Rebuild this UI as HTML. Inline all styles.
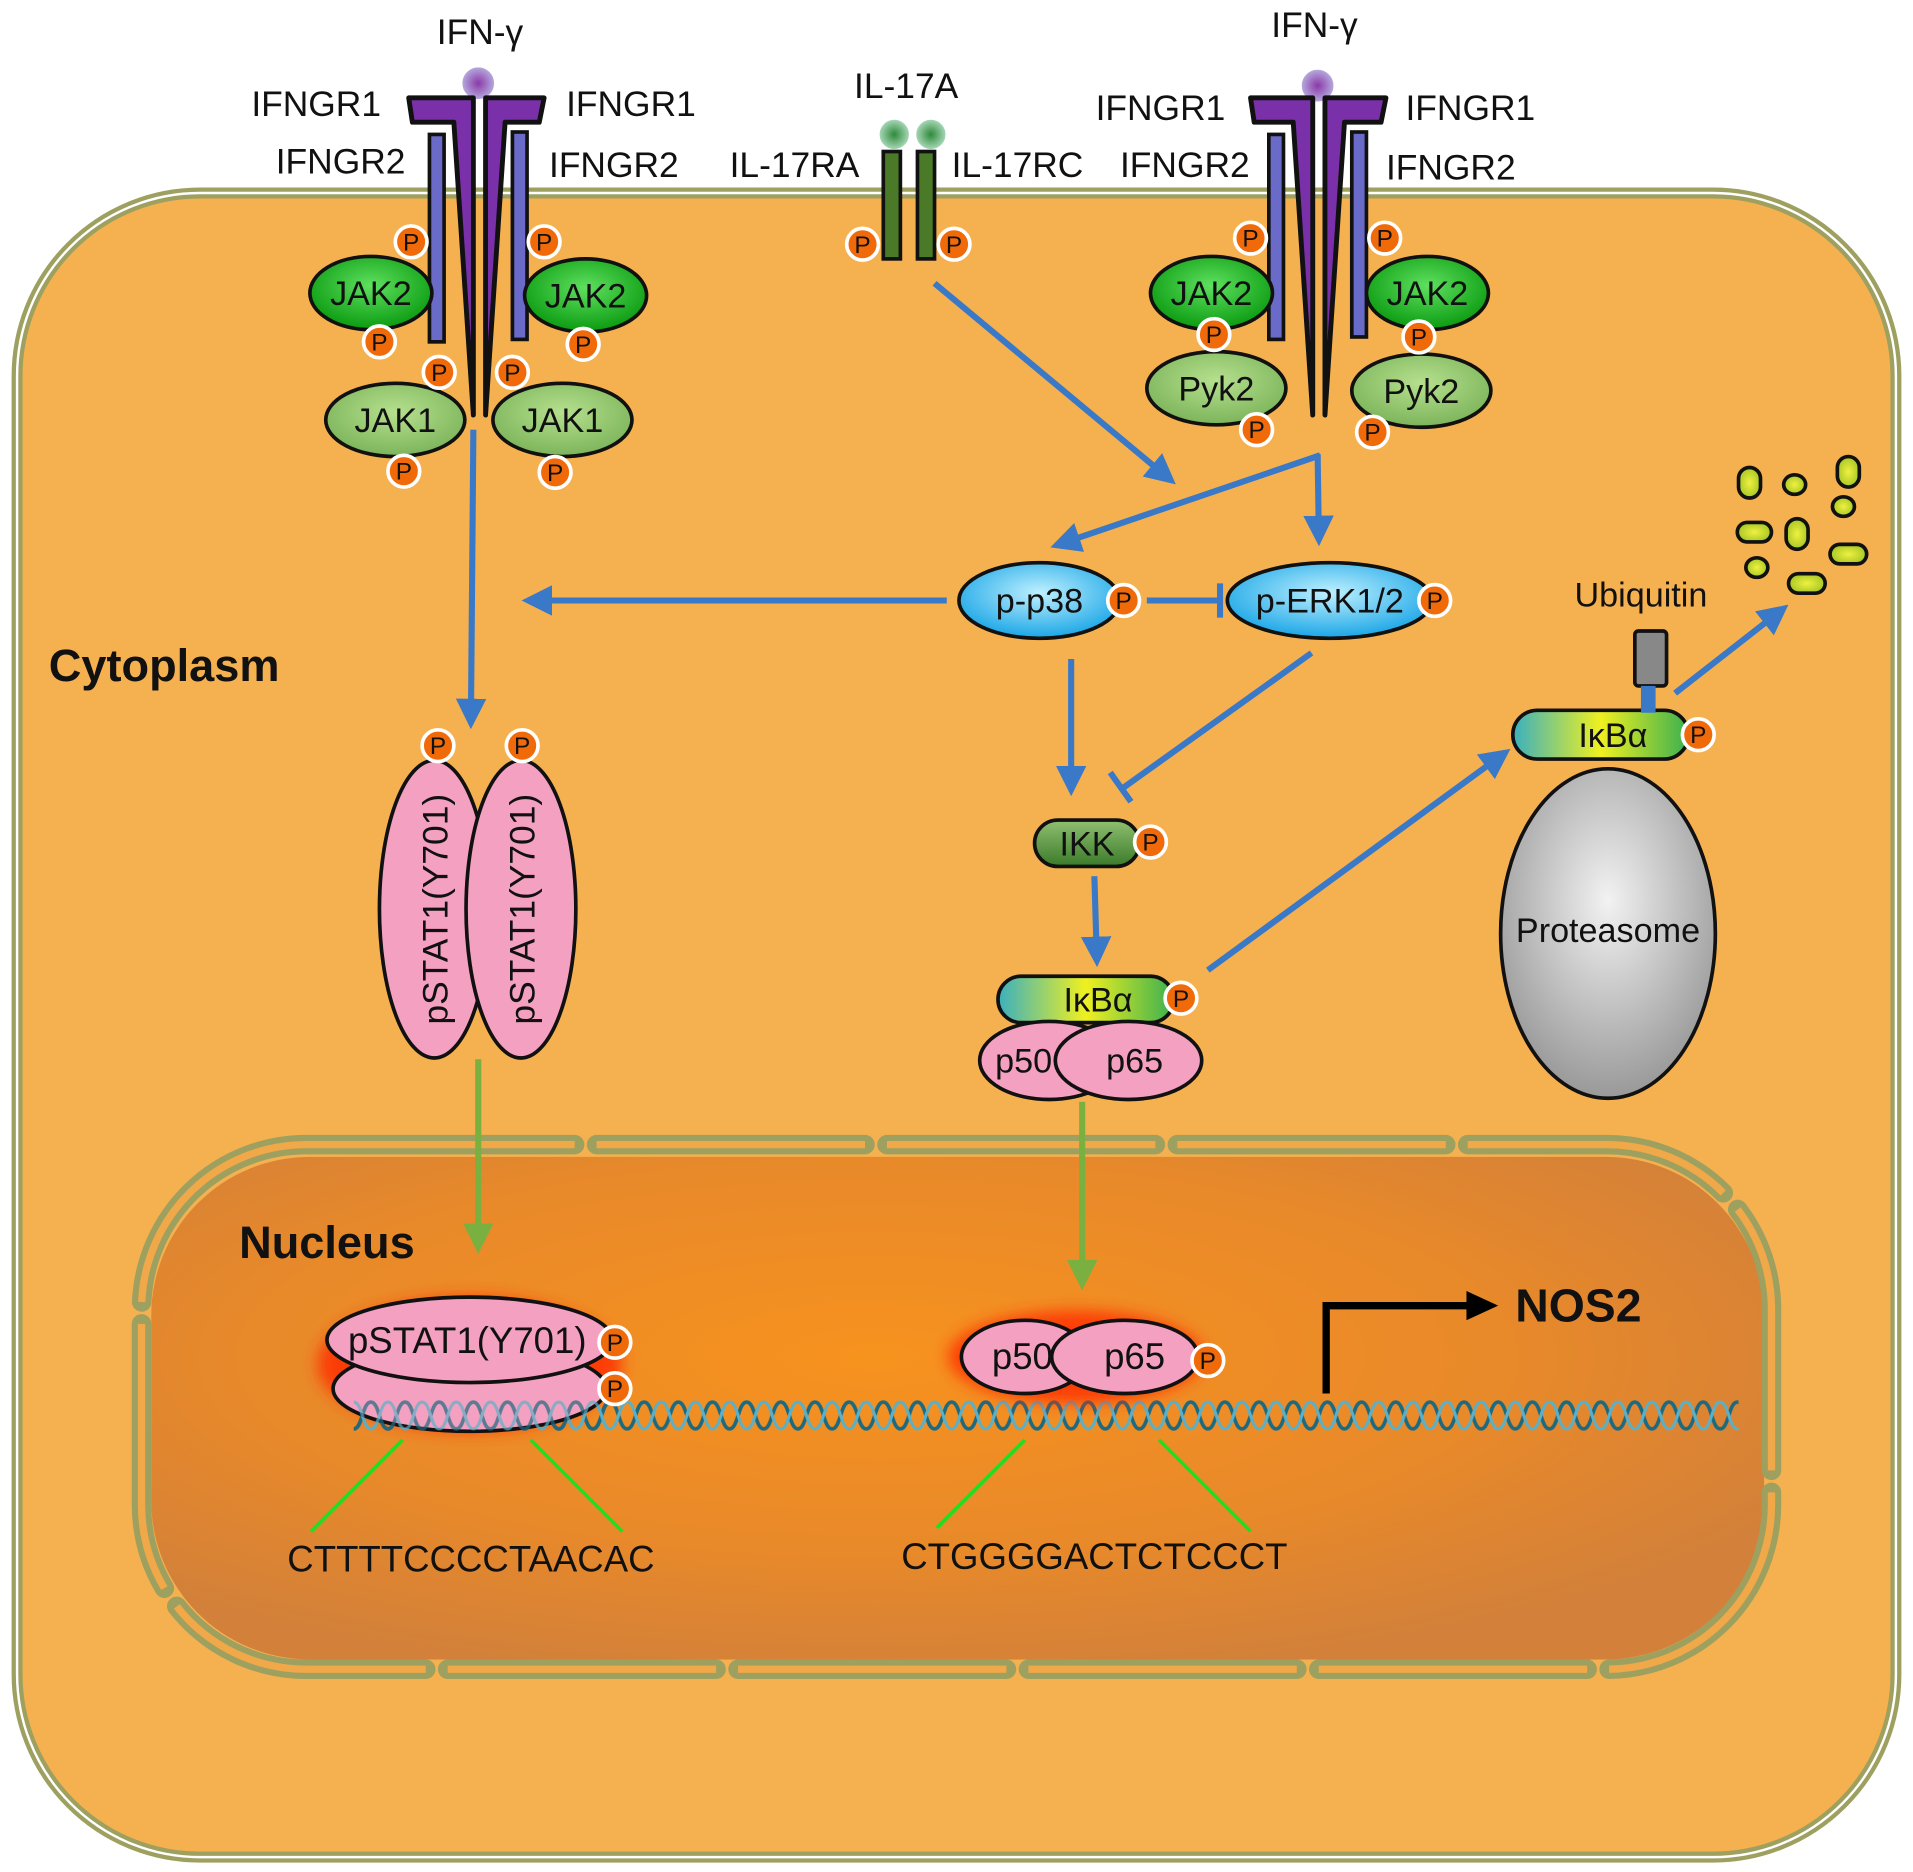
<!DOCTYPE html>
<html><head><meta charset="utf-8"><style>html,body{margin:0;padding:0;background:#fff}svg{display:block}</style></head><body>
<svg width="1913" height="1872" viewBox="0 0 1568 1534" xmlns="http://www.w3.org/2000/svg" font-family="Liberation Sans, Arial, sans-serif">
<defs>
<radialGradient id="nuc" cx="0.45" cy="0.4" r="0.65"><stop offset="0" stop-color="#f7921e"/><stop offset="0.6" stop-color="#e8892a"/><stop offset="1" stop-color="#d2803a"/></radialGradient>
<radialGradient id="g1" cx="0.5" cy="0.4" r="0.6"><stop offset="0" stop-color="#5fe05f"/><stop offset="1" stop-color="#0a9a10"/></radialGradient>
<radialGradient id="g2" cx="0.5" cy="0.4" r="0.6"><stop offset="0" stop-color="#b6e08e"/><stop offset="1" stop-color="#7cb45a"/></radialGradient>
<radialGradient id="bl" cx="0.5" cy="0.4" r="0.6"><stop offset="0" stop-color="#bff0ff"/><stop offset="1" stop-color="#1aa6e6"/></radialGradient>
<radialGradient id="gr" cx="0.5" cy="0.4" r="0.6"><stop offset="0" stop-color="#f2f2f2"/><stop offset="1" stop-color="#999"/></radialGradient>
<radialGradient id="ifn" cx="0.5" cy="0.5" r="0.5"><stop offset="0" stop-color="#8a3aa8"/><stop offset="1" stop-color="#b8b0e0"/></radialGradient>
<radialGradient id="il" cx="0.5" cy="0.5" r="0.5"><stop offset="0" stop-color="#2e8a3a"/><stop offset="1" stop-color="#b0dcc0"/></radialGradient>
<linearGradient id="ikb" x1="0" x2="1"><stop offset="0" stop-color="#3ab0c0"/><stop offset="0.5" stop-color="#f0f020"/><stop offset="1" stop-color="#3ab050"/></linearGradient>
<linearGradient id="ikk" x1="0" x2="0" y1="0" y2="1"><stop offset="0" stop-color="#8fc070"/><stop offset="1" stop-color="#3a7a2a"/></linearGradient>
<radialGradient id="yl" cx="0.5" cy="0.5" r="0.6"><stop offset="0" stop-color="#f0f040"/><stop offset="1" stop-color="#9ac020"/></radialGradient>
<filter id="glow" x="-20%" y="-40%" width="140%" height="180%"><feGaussianBlur stdDeviation="6"/></filter>
<pattern id="dna" x="290" y="1145" width="28" height="30" patternUnits="userSpaceOnUse">
<path d="M0 26 C7 26 7 4 14 4 C21 4 21 26 28 26" fill="none" stroke="#1d6a80" stroke-width="3"/>
<path d="M0 4 C7 4 7 26 14 26 C21 26 21 4 28 4" fill="none" stroke="#5ab0c8" stroke-width="2.5"/>
</pattern>
<marker id="ab" markerWidth="5" markerHeight="5" refX="3.5" refY="2.5" orient="auto" markerUnits="strokeWidth"><path d="M0 0 L5 2.5 L0 5 z" fill="#3a78c8"/></marker>
<marker id="ag" markerWidth="5" markerHeight="5" refX="3.5" refY="2.5" orient="auto" markerUnits="strokeWidth"><path d="M0 0 L5 2.5 L0 5 z" fill="#7ab040"/></marker>
</defs>
<rect width="1568" height="1534" fill="#fff"/>
<rect x="14" y="158" width="1540" height="1364" rx="150" fill="#f5b14f" stroke="#9ea060" stroke-width="9"/>
<rect x="14" y="158" width="1540" height="1364" rx="150" fill="none" stroke="#fff" stroke-width="2"/>
<rect x="124" y="948" width="1322" height="412" rx="130" fill="url(#nuc)"/>
<rect x="116" y="938" width="1336" height="430" rx="135" fill="none" stroke="#9ea060" stroke-width="16" stroke-dasharray="220 18" stroke-linecap="round"/>
<rect x="116" y="938" width="1336" height="430" rx="135" fill="none" stroke="#f0a848" stroke-width="6" stroke-dasharray="220 18"/>
<rect x="290" y="1145" width="1135" height="30" fill="url(#dna)"/>
<circle cx="392" cy="68" r="14" fill="url(#ifn)" stroke="#fff" stroke-width="2"/>
<path d="M335 80 L388 80 L388 340 L372 100 L338 100 Z" fill="#7a30a8" stroke="#111" stroke-width="4" stroke-linejoin="round"/>
<path d="M446 80 L398 80 L398 340 L414 100 L442 100 Z" fill="#7a30a8" stroke="#111" stroke-width="4" stroke-linejoin="round"/>
<rect x="352" y="110" width="12" height="170" fill="#6a6ac8" stroke="#111" stroke-width="3"/>
<rect x="420" y="108" width="12" height="170" fill="#6a6ac8" stroke="#111" stroke-width="3"/>
<circle cx="1080" cy="70" r="14" fill="url(#ifn)" stroke="#fff" stroke-width="2"/>
<path d="M1025 80 L1076 80 L1076 340 L1060 100 L1028 100 Z" fill="#7a30a8" stroke="#111" stroke-width="4" stroke-linejoin="round"/>
<path d="M1136 80 L1086 80 L1086 340 L1102 100 L1132 100 Z" fill="#7a30a8" stroke="#111" stroke-width="4" stroke-linejoin="round"/>
<rect x="1040" y="110" width="12" height="168" fill="#6a6ac8" stroke="#111" stroke-width="3"/>
<rect x="1108" y="108" width="12" height="168" fill="#6a6ac8" stroke="#111" stroke-width="3"/>
<circle cx="733" cy="110" r="13" fill="url(#il)" stroke="#fff" stroke-width="2"/>
<circle cx="763" cy="110" r="13" fill="url(#il)" stroke="#fff" stroke-width="2"/>
<rect x="724" y="124" width="14" height="88" fill="#4a7a28" stroke="#111" stroke-width="3"/>
<rect x="752" y="124" width="14" height="88" fill="#4a7a28" stroke="#111" stroke-width="3"/>
<g font-size="29" fill="#111">
<text x="358" y="36">IFN-γ</text><text x="1042" y="30">IFN-γ</text>
<text x="206" y="95">IFNGR1</text><text x="464" y="95">IFNGR1</text>
<text x="226" y="142">IFNGR2</text><text x="450" y="145">IFNGR2</text>
<text x="700" y="80">IL-17A</text><text x="598" y="145">IL-17RA</text><text x="780" y="145">IL-17RC</text>
<text x="898" y="98">IFNGR1</text><text x="1152" y="98">IFNGR1</text>
<text x="918" y="145">IFNGR2</text><text x="1136" y="147">IFNGR2</text>
</g>
<g stroke="#111" stroke-width="3">
<ellipse cx="304" cy="240" rx="50" ry="30" fill="url(#g1)"/>
<ellipse cx="480" cy="242" rx="50" ry="30" fill="url(#g1)"/>
<ellipse cx="324" cy="344" rx="57" ry="30" fill="url(#g2)"/>
<ellipse cx="461" cy="344" rx="57" ry="30" fill="url(#g2)"/>
<ellipse cx="993" cy="240" rx="50" ry="30" fill="url(#g1)"/>
<ellipse cx="1170" cy="240" rx="50" ry="30" fill="url(#g1)"/>
<ellipse cx="997" cy="318" rx="57" ry="30" fill="url(#g2)"/>
<ellipse cx="1165" cy="320" rx="57" ry="30" fill="url(#g2)"/>
<ellipse cx="852" cy="492" rx="66" ry="31" fill="url(#bl)"/>
<ellipse cx="1090" cy="492" rx="84" ry="31" fill="url(#bl)"/>
<rect x="848" y="672" width="86" height="38" rx="19" fill="url(#ikk)"/>
<rect x="818" y="800" width="144" height="38" rx="19" fill="url(#ikb)"/>
<ellipse cx="1318" cy="765" rx="88" ry="135" fill="url(#gr)"/>
<rect x="1240" y="582" width="144" height="40" rx="20" fill="url(#ikb)"/>
<ellipse cx="860" cy="869" rx="57" ry="32" fill="#f4a0c0"/>
<ellipse cx="925" cy="869" rx="60" ry="32" fill="#f4a0c0"/>
<rect x="1340" y="517" width="26" height="45" rx="3" fill="#888"/>
</g>
<rect x="1345" y="562" width="12" height="22" fill="#3a78c8"/>
<g font-size="28" text-anchor="middle" fill="#111">
<text x="304" y="250">JAK2</text><text x="480" y="252">JAK2</text>
<text x="324" y="354">JAK1</text><text x="461" y="354">JAK1</text>
<text x="993" y="250">JAK2</text><text x="1170" y="250">JAK2</text>
<text x="997" y="328">Pyk2</text><text x="1165" y="330">Pyk2</text>
<text x="852" y="502">p-p38</text><text x="1090" y="502">p-ERK1/2</text>
<text x="891" y="701">IKK</text><text x="900" y="829">IκBα</text><text x="1322" y="612">IκBα</text>
<text x="839" y="879">p50</text><text x="930" y="879">p65</text>
<text x="1318" y="772">Proteasome</text>
<text x="1345" y="497">Ubiquitin</text>
</g>
<g stroke="#111" stroke-width="3">
<ellipse cx="356" cy="745" rx="45" ry="122" fill="#f4a0c0"/>
<ellipse cx="427" cy="745" rx="45" ry="122" fill="#f4a0c0"/>
</g>
<g font-size="29" fill="#111" text-anchor="middle">
<text transform="translate(367,745) rotate(-90)">pSTAT1(Y701)</text>
<text transform="translate(438,745) rotate(-90)">pSTAT1(Y701)</text>
</g>
<ellipse cx="385" cy="1118" rx="125" ry="55" fill="#ff2a00" filter="url(#glow)" opacity="0.8"/>
<ellipse cx="882" cy="1112" rx="105" ry="38" fill="#ff2a00" filter="url(#glow)" opacity="0.8"/>
<g stroke="#111" stroke-width="3">
<ellipse cx="385" cy="1138" rx="112" ry="35" fill="#f4a0c0"/>
<ellipse cx="385" cy="1098" rx="117" ry="35" fill="#f4a0c0"/>
<ellipse cx="840" cy="1112" rx="52" ry="30" fill="#f4a0c0"/>
<ellipse cx="922" cy="1112" rx="60" ry="30" fill="#f4a0c0"/>
</g>
<rect x="290" y="1145" width="210" height="30" fill="url(#dna)" opacity="0.7"/>
<g font-size="30" fill="#111" text-anchor="middle">
<text x="383" y="1109">pSTAT1(Y701)</text>
<text x="838" y="1122">p50</text><text x="930" y="1122">p65</text>
<text x="386" y="1288">CTTTTCCCCTAACAC</text>
<text x="897" y="1286">CTGGGGACTCTCCCT</text>
</g>
<g stroke="#22dd22" stroke-width="3">
<line x1="330" y1="1180" x2="255" y2="1255"/><line x1="435" y1="1180" x2="510" y2="1255"/>
<line x1="840" y1="1180" x2="768" y2="1252"/><line x1="950" y1="1180" x2="1025" y2="1255"/>
</g>
<path d="M1087 1142 L1087 1070 L1205 1070" fill="none" stroke="#000" stroke-width="6"/>
<path d="M1202 1058 L1228 1070 L1202 1082 Z" fill="#000"/>
<text x="1242" y="1083" font-size="38" font-weight="bold" fill="#111">NOS2</text>
<text x="40" y="558" font-size="37" font-weight="bold" fill="#111">Cytoplasm</text>
<text x="196" y="1031" font-size="37" font-weight="bold" fill="#111">Nucleus</text>
<g stroke="#3a78c8" stroke-width="5" fill="none">
<line x1="388" y1="352" x2="386" y2="590" marker-end="url(#ab)"/>
<line x1="766" y1="232" x2="958" y2="392" marker-end="url(#ab)"/>
<line x1="1080" y1="372" x2="1081" y2="440" marker-end="url(#ab)"/>
<path d="M1082 373 L868 446" marker-end="url(#ab)"/>
<line x1="776" y1="492" x2="435" y2="492" marker-end="url(#ab)"/>
<line x1="940" y1="492" x2="1000" y2="492"/>
<line x1="878" y1="540" x2="878" y2="645" marker-end="url(#ab)"/>
<line x1="1075" y1="535" x2="920" y2="646"/>
<line x1="897" y1="718" x2="899" y2="785" marker-end="url(#ab)"/>
<line x1="990" y1="795" x2="1232" y2="618" marker-end="url(#ab)"/>
<line x1="1373" y1="568" x2="1460" y2="500" marker-end="url(#ab)"/>
</g>
<line x1="1000" y1="478" x2="1000" y2="506" stroke="#3a78c8" stroke-width="5"/>
<line x1="910" y1="633" x2="927" y2="657" stroke="#3a78c8" stroke-width="5"/>
<g stroke="#7ab040" stroke-width="5">
<line x1="392" y1="868" x2="392" y2="1020" marker-end="url(#ag)"/>
<line x1="887" y1="903" x2="887" y2="1050" marker-end="url(#ag)"/>
</g>
<g fill="url(#yl)" stroke="#111" stroke-width="3">
<rect x="1425" y="383" width="18" height="25" rx="9"/><ellipse cx="1471" cy="397" rx="9" ry="8"/><rect x="1506" y="374" width="18" height="25" rx="9"/>
<ellipse cx="1511" cy="415" rx="9" ry="8"/><rect x="1424" y="428" width="28" height="16" rx="8"/><rect x="1464" y="425" width="18" height="25" rx="9"/>
<rect x="1500" y="446" width="30" height="16" rx="8"/><ellipse cx="1440" cy="465" rx="9" ry="8"/><rect x="1466" y="470" width="30" height="16" rx="8"/>
</g>
<g font-size="20" text-anchor="middle" fill="#111">
<g stroke="#fff" stroke-width="3" fill="#f06a0a">
<circle cx="337" cy="198" r="13"/><circle cx="446" cy="198" r="13"/><circle cx="311" cy="280" r="13"/><circle cx="478" cy="282" r="13"/>
<circle cx="360" cy="305" r="13"/><circle cx="420" cy="305" r="13"/><circle cx="331" cy="386" r="13"/><circle cx="455" cy="387" r="13"/>
<circle cx="707" cy="200" r="13"/><circle cx="782" cy="200" r="13"/>
<circle cx="1025" cy="195" r="13"/><circle cx="1135" cy="195" r="13"/><circle cx="995" cy="274" r="13"/><circle cx="1163" cy="276" r="13"/>
<circle cx="1030" cy="352" r="13"/><circle cx="1125" cy="354" r="13"/>
<circle cx="921" cy="492" r="13"/><circle cx="1176" cy="492" r="13"/><circle cx="943" cy="690" r="13"/><circle cx="968" cy="818" r="13"/>
<circle cx="1392" cy="602" r="13"/><circle cx="359" cy="611" r="13"/><circle cx="428" cy="611" r="13"/>
<circle cx="504" cy="1100" r="13"/><circle cx="504" cy="1138" r="13"/><circle cx="990" cy="1115" r="13"/>
</g>
<g>
<text x="337" y="205">P</text><text x="446" y="205">P</text><text x="311" y="287">P</text><text x="478" y="289">P</text>
<text x="360" y="312">P</text><text x="420" y="312">P</text><text x="331" y="393">P</text><text x="455" y="394">P</text>
<text x="707" y="207">P</text><text x="782" y="207">P</text>
<text x="1025" y="202">P</text><text x="1135" y="202">P</text><text x="995" y="281">P</text><text x="1163" y="283">P</text>
<text x="1030" y="359">P</text><text x="1125" y="361">P</text>
<text x="921" y="499">P</text><text x="1176" y="499">P</text><text x="943" y="697">P</text><text x="968" y="825">P</text>
<text x="1392" y="609">P</text><text x="359" y="618">P</text><text x="428" y="618">P</text>
<text x="504" y="1107">P</text><text x="504" y="1145">P</text><text x="990" y="1122">P</text>
</g>
</g>
</svg>
</body></html>
